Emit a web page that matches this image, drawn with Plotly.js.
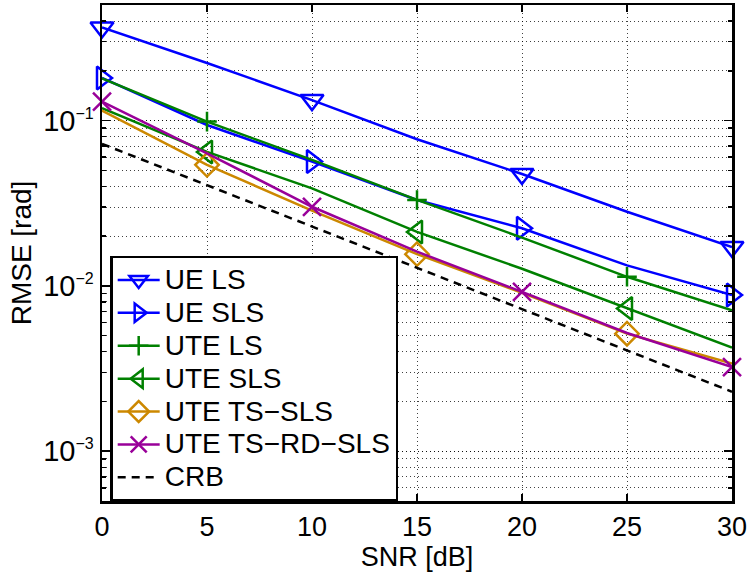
<!DOCTYPE html>
<html>
<head>
<meta charset="utf-8">
<script src="https://cdn.plot.ly/plotly-3.0.1.min.js"></script>
<style>
  html, body { margin: 0; padding: 0; background: #fff; }
  #plot { width: 750px; height: 572px; }
</style>
</head>
<body>
<div id="plot"></div>
<script>
// SNR sweep in dB
const snr = [0, 5, 10, 15, 20, 25, 30];

// RMSE [rad] of each estimator
const ueLS      = [0.366, 0.223, 0.133, 0.0771, 0.0475, 0.0281, 0.0172];
const ueSLS     = [0.181, 0.094, 0.0565, 0.0331, 0.0223, 0.0133, 0.0088];
const uteLS     = [0.180, 0.0986, 0.0578, 0.0331, 0.0196, 0.01135, 0.00713];
const uteSLS    = [0.119, 0.0646, 0.0389, 0.0212, 0.0127, 0.0073, 0.00423];
const uteTSSLS  = [0.115, 0.054, 0.0285, 0.01556, 0.00908, 0.00514, 0.00339];
const uteTSRD   = [0.130, 0.0634, 0.0301, 0.0161, 0.0092, 0.00519, 0.00323];
const crb       = [0.0723, 0.0407, 0.0229, 0.0129, 0.00723, 0.00407, 0.00229];

// series names as shown in the legend
const names = ['UE LS', 'UE SLS', 'UTE LS', 'UTE SLS', 'UTE TS\u2212SLS', 'UTE TS\u2212RD\u2212SLS', 'CRB'];

// decade ticks of the RMSE axis
const yTickVals = [1e-3, 1e-2, 1e-1];
const yTickExp  = ['\u22123', '\u22122', '\u22121'];

// which SNR points carry a marker
const markEven = [0, 2, 4, 6];
const markOdd  = [1, 3, 5];

const FONT = 'Liberation Sans, Arial, Helvetica, sans-serif';
const LW = 2.5;
const LEG_TXT = 28;

const series = [
  { y: ueLS,     name: names[0], color: '#0000ff', symbol: 'triangle-down-open', size: 20, idx: markEven },
  { y: ueSLS,    name: names[1], color: '#0000ff', symbol: 'triangle-right-open', size: 20, idx: markEven },
  { y: uteLS,    name: names[2], color: '#008000', symbol: 'cross-thin-open', size: 14, idx: markOdd },
  { y: uteSLS,   name: names[3], color: '#008000', symbol: 'triangle-left-open', size: 20, idx: markOdd },
  { y: uteTSSLS, name: names[4], color: '#cc8800', symbol: 'diamond-open', size: 18, idx: markOdd },
  { y: uteTSRD,  name: names[5], color: '#990099', symbol: 'x-thin-open', size: 18, idx: markEven },
];

const legText = t => '<span style="font-size:' + LEG_TXT + 'px">' + t + '</span>';

const data = [];
series.forEach(s => {
  data.push({
    x: snr, y: s.y, mode: 'lines', type: 'scatter',
    line: { color: s.color, width: LW },
    showlegend: false, hoverinfo: 'skip'
  });
  data.push({
    x: s.idx.map(i => snr[i]), y: s.idx.map(i => s.y[i]),
    mode: 'markers', type: 'scatter',
    marker: { symbol: s.symbol, size: s.size, color: s.color, line: { color: s.color, width: 2.5 } },
    showlegend: false, hoverinfo: 'skip', cliponaxis: false
  });
});
// Cramér-Rao bound
data.push({
  x: snr, y: crb, mode: 'lines', type: 'scatter',
  line: { color: '#000', width: LW, dash: '8px,6px' },
  showlegend: false, hoverinfo: 'skip'
});

// legend entries
series.forEach(s => {
  data.push({
    x: [null], y: [null], mode: 'lines+markers', type: 'scatter', name: legText(s.name),
    line: { color: s.color, width: LW },
    marker: { symbol: s.symbol, size: s.size, color: s.color, line: { color: s.color, width: 2.5 } }
  });
});
data.push({
  x: [null], y: [null], mode: 'lines', type: 'scatter', name: legText(names[6]),
  line: { color: '#000', width: LW, dash: '8px,6px' }
});

const GRID = 'rgba(0,0,0,0.75)';
const GDASH = '1px,3px';

const layout = {
  width: 750, height: 572,
  margin: { l: 102, r: 18, t: 5, b: 71 },
  paper_bgcolor: '#fff', plot_bgcolor: '#fff',
  font: { family: FONT, size: 27, color: '#000' },
  showlegend: true,
  xaxis: {
    range: [0, 30], tick0: 0, dtick: 5,
    showgrid: true, gridcolor: GRID, gridwidth: 1, griddash: GDASH,
    zeroline: false,
    showline: true, linecolor: '#000', linewidth: 2.5, mirror: 'allticks',
    ticks: 'inside', ticklen: 7, tickwidth: 1.5, tickcolor: '#000',
    tickfont: { family: FONT, size: 27, color: '#000' },
    title: { text: 'SNR [dB]', font: { family: FONT, size: 27, color: '#000' }, standoff: 4 }
  },
  yaxis: {
    type: 'log', range: [Math.log10(5e-4), Math.log10(0.5)],
    tickmode: 'array', tickvals: yTickVals,
    ticktext: yTickExp.map(e => '10<sup><span style="font-size:16px">' + e + '</span></sup>'),
    showgrid: true, gridcolor: GRID, gridwidth: 1, griddash: GDASH,
    zeroline: false,
    showline: true, linecolor: '#000', linewidth: 2.5, mirror: 'allticks',
    ticks: 'inside', ticklen: 8, tickwidth: 1.5, tickcolor: '#000',
    tickfont: { family: FONT, size: 29, color: '#000' },
    minor: { dtick: 'D1', ticks: 'inside', ticklen: 4, tickwidth: 1.5, tickcolor: '#000',
             showgrid: true, gridcolor: GRID, gridwidth: 1, griddash: GDASH },
    title: { text: 'RMSE [rad]', font: { family: FONT, size: 28, color: '#000' }, standoff: 4 }
  },
  legend: {
    x: 0.013, y: 0.494, xanchor: 'left', yanchor: 'top',
    bgcolor: '#fff', bordercolor: '#000', borderwidth: 2.5,
    font: { family: FONT, size: 23, color: '#000' },
    itemwidth: 42, tracegroupgap: 0
  }
};

Plotly.newPlot('plot', data, layout, { staticPlot: true, displayModeBar: false });
</script>
</body>
</html>
